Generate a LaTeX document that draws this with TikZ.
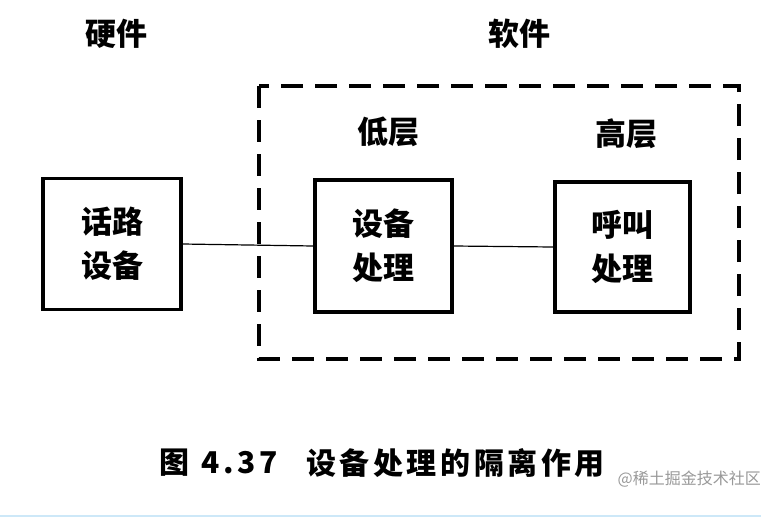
\documentclass[tikz,border=0pt]{standalone}
\usepackage{fontspec}
\newfontfamily\cjk{Noto Sans CJK SC}
\newfontfamily\cjkls{Noto Sans CJK SC}[LetterSpace=12]
\begin{document}
\begin{tikzpicture}[x=1pt,y=-1pt,
  box/.style={draw, line width=3.5pt, align=center, inner sep=0pt,
    font=\cjk\bfseries\fontsize{31}{44}\selectfont},
  lbl/.style={font=\cjk\bfseries\fontsize{31}{34}\selectfont, inner sep=0pt},
  captext/.style={font=\cjkls\bfseries\fontsize{30}{34}\selectfont, inner sep=0pt, anchor=west},
  conn/.style={line width=1.2pt},
  dashbox/.style={draw, line width=3.5pt, dash pattern=on 22pt off 12pt}]
\useasboundingbox (0,0) rectangle (761,523);
\fill[white] (0,0) rectangle (761,523);
% dashed software region
\draw[dashbox] (259,86) rectangle (739,359);
% labels
\node[lbl] (hwl) at (116.5,34) {硬件};
\node[lbl] (swl) at (519,34) {软件};
\node[lbl] (low) at (388,132) {低层};
\node[lbl] (high) at (626,134) {高层};
% boxes
\node[box, minimum width=138pt, minimum height=131pt] (hw) at (112,244) {话路\\设备};
\node[box, minimum width=137pt, minimum height=132pt] (dev) at (383.5,246) {设备\\处理};
\node[box, minimum width=135pt, minimum height=130pt] (call) at (622.5,247) {呼叫\\处理};
% connectors
\draw[conn] (hw.east) -- (dev.west);
\draw[conn] (dev.east) -- (call.west);
% caption
\node[captext] (capa) at (159,463) {图};
\node[captext] (capb) at (201,463) {4.37};
\node[captext] (capc) at (306,463) {设备处理的隔离作用};
% watermark
\node[font=\cjk\fontsize{16}{18}\selectfont, text=black!40, inner sep=0pt, anchor=east] (wm) at (761,479) {@稀土掘金技术社区};
% bottom rule
\draw[line width=1.5pt, color={rgb,255:red,205;green,232;blue,248}] (0,516) -- (761,516);
\end{tikzpicture}
\end{document}
